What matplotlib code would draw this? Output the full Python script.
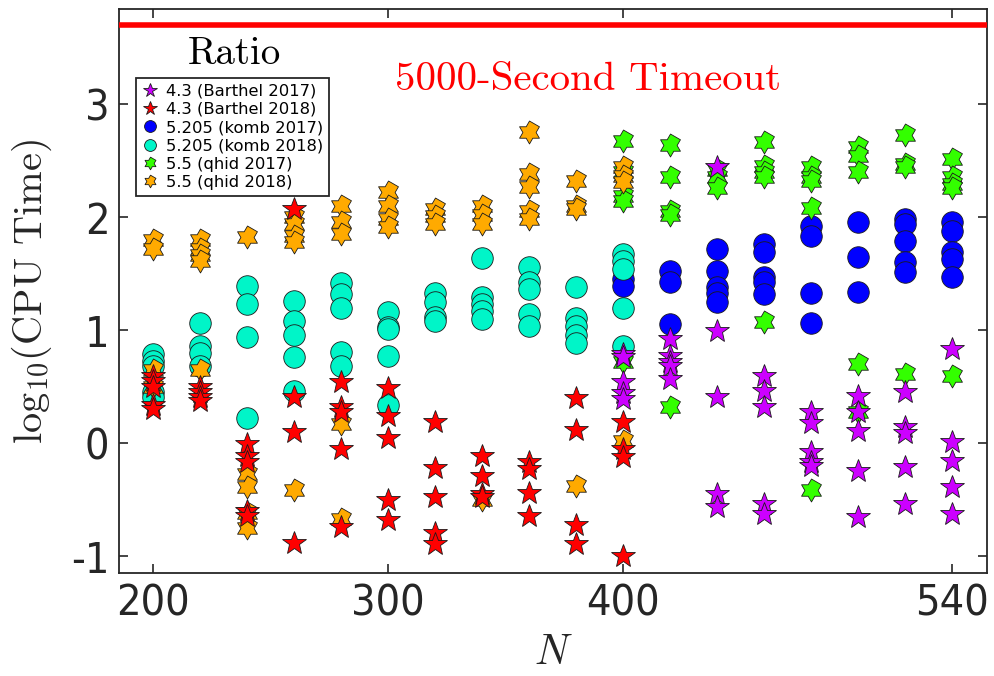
import numpy as np
import matplotlib.pyplot as plt
from matplotlib.path import Path
from matplotlib.lines import Line2D

plt.rcParams['mathtext.fontset'] = 'cm'

# N values for the two runs
n_2018 = [200, 220, 240, 260, 280, 300, 320, 340, 360, 380, 400]
n_2017 = [400, 420, 440, 460, 480, 500, 520, 540]

# log10(CPU time), one list per N
barthel_2017 = [[0.79, 0.76, 0.54, 0.44, 0.39],
                [0.92, 0.77, 0.72, 0.68, 0.57],
                [2.44, 0.99, 0.41, -0.45, -0.56],
                [0.59, 0.46, 0.32, -0.54, -0.63],
                [0.28, 0.18, -0.08, -0.17, -0.20],
                [0.42, 0.28, 0.11, -0.25, -0.65],
                [0.45, 0.14, 0.09, -0.21, -0.54],
                [0.83, 0.01, -0.16, -0.39, -0.63]]
barthel_2018 = [[0.59, 0.55, 0.50, 0.34, 0.30],
                [0.50, 0.45, 0.41, 0.37],
                [-0.01, -0.11, -0.17, -0.60, -0.64],
                [2.07, 0.41, 0.10, -0.88],
                [0.54, 0.32, 0.28, -0.05, -0.74],
                [0.49, 0.24, 0.05, -0.50, -0.68],
                [0.19, -0.22, -0.48, -0.79, -0.89],
                [-0.11, -0.29, -0.45, -0.48],
                [-0.17, -0.23, -0.44, -0.64],
                [0.40, 0.12, -0.72, -0.89],
                [0.19, -0.05, -0.12, -1.00]]
komb_2017 = [[1.45, 1.39],
             [1.52, 1.43, 1.05],
             [1.72, 1.52, 1.38, 1.33, 1.25],
             [1.76, 1.69, 1.47, 1.43, 1.32],
             [1.92, 1.83, 1.33, 1.06],
             [1.96, 1.65, 1.34],
             [1.98, 1.94, 1.79, 1.60, 1.51],
             [1.96, 1.88, 1.69, 1.63, 1.47]]
komb_2018 = [[0.79, 0.73, 0.68, 0.45, 0.41],
             [1.06, 0.86, 0.80, 0.68],
             [1.39, 1.23, 0.94, 0.22],
             [1.26, 1.08, 0.96, 0.76, 0.46],
             [1.42, 1.32, 1.20, 0.81, 0.68],
             [1.16, 1.03, 1.01, 0.77, 0.34],
             [1.33, 1.25, 1.12, 1.08],
             [1.64, 1.29, 1.23, 1.17, 1.10],
             [1.56, 1.43, 1.36, 1.14, 1.04],
             [1.38, 1.11, 1.04, 0.96, 0.89],
             [1.67, 1.61, 1.54, 1.20, 0.86]]
qhid_2017 = [[2.67, 2.40, 2.19, 2.14, 0.72],
             [2.64, 2.35, 2.05, 2.02, 0.32],
             [2.42, 2.35, 2.26],
             [2.66, 2.45, 2.40, 2.35, 1.07],
             [2.44, 2.35, 2.32, 2.08, -0.41],
             [2.62, 2.54, 2.40, 0.70, 0.28],
             [2.73, 2.47, 2.44, 0.61],
             [2.51, 2.35, 2.29, 2.26, 0.59]]
qhid_2018 = [[1.80, 1.72, 0.65, 0.50],
             [1.80, 1.72, 1.66, 1.61, 0.65],
             [1.82, -0.27, -0.39, -0.62, -0.75],
             [2.00, 1.94, 1.83, 1.78, -0.41],
             [2.10, 1.96, 1.85, 0.17, -0.67],
             [2.22, 2.10, 1.98, 1.91],
             [2.07, 2.01, 1.94],
             [2.10, 2.02, 1.94, -0.50],
             [2.75, 2.38, 2.27, 2.05, 1.98],
             [2.32, 2.10, 2.07, -0.38],
             [2.44, 2.36, 2.31, 0.02]]

timeout = 5000

# six-pointed star (MATLAB 'hexagram')
ang = np.deg2rad(90 + 30 * np.arange(12))
rad = np.where(np.arange(12) % 2 == 0, 1.0, 1 / np.sqrt(3))
hexagram = Path(np.column_stack([rad * np.cos(ang), rad * np.sin(ang)]), closed=True)


def flatten(ns, groups):
    xs, ys = [], []
    for n, g in zip(ns, groups):
        xs += [n] * len(g)
        ys += g
    return xs, ys


series = [
    # label, N, values, marker, size, colour, zorder
    ('4.3 (Barthel 2017)', n_2017, barthel_2017, '*', 18, '#cc00ff', 8),
    ('4.3 (Barthel 2018)', n_2018, barthel_2018, '*', 18, '#ff0000', 7),
    ('5.205 (komb 2017)', n_2017, komb_2017, 'o', 15.5, '#0000ff', 3),
    ('5.205 (komb 2018)', n_2018, komb_2018, 'o', 15.5, '#00f5c8', 5),
    ('5.5 (qhid 2017)', n_2017, qhid_2017, hexagram, 16.5, '#33ff00', 4),
    ('5.5 (qhid 2018)', n_2018, qhid_2018, hexagram, 16.5, '#ffaa00', 6),
]

fig = plt.figure(figsize=(9.95, 6.76), dpi=100)
ax = fig.add_axes([0.1196, 0.152, 0.8724, 0.8347])

handles = []
for label, ns, vals, mk, ms, col, z in series:
    xs, ys = flatten(ns, vals)
    ax.plot(xs, ys, linestyle='none', marker=mk, ms=ms, mfc=col,
            mec='#1a1a1a', mew=0.6, zorder=z)
    handles.append(Line2D([], [], linestyle='none', marker=mk, ms=ms,
                          mfc=col, mec='#1a1a1a', mew=0.6, label=label))

ax.axhline(np.log10(timeout), color='red', lw=4, zorder=10)
ax.text(385, 3.124, '5000-Second Timeout', color='red', fontsize=29.5,
        family='cmr10', ha='center', va='baseline')
ax.text(234.5, 3.353, 'Ratio', fontsize=28, family='cmr10',
        ha='center', va='baseline')

leg = ax.legend(handles=handles, loc='upper left',
                bbox_to_anchor=(0.0196, 0.878), fontsize=11.8,
                markerscale=0.55, fancybox=False, framealpha=1,
                edgecolor='#262626', handletextpad=0.5, handlelength=1.0,
                labelspacing=0.2, borderpad=0.35, borderaxespad=0)
leg.get_frame().set_linewidth(1.3)
leg.set_zorder(20)

ax.set_xlim(185.5, 555)
ax.set_ylim(-1.15, 3.84)
ax.set_xticks([200, 300, 400, 540])
ax.set_yticks([-1, 0, 1, 2, 3])
ax.set_yticklabels(['-1', '0', '1', '2', '3'])
ax.tick_params(direction='in', length=6.5, width=1.2, labelsize=31,
               colors='#262626', top=True, right=True, pad=7)
for lbl in ax.get_xticklabels() + ax.get_yticklabels():
    lbl.set_fontstretch('condensed')
for s in ax.spines.values():
    s.set_color('#262626')
    s.set_linewidth(1.3)

ax.set_xlabel('$N$', fontsize=30, color='#262626', labelpad=4)
ax.set_ylabel(r'log$_{10}$(CPU Time)', fontsize=29, family='cmr10',
              color='#262626', labelpad=12)

fig.savefig('out.png', dpi=100)
